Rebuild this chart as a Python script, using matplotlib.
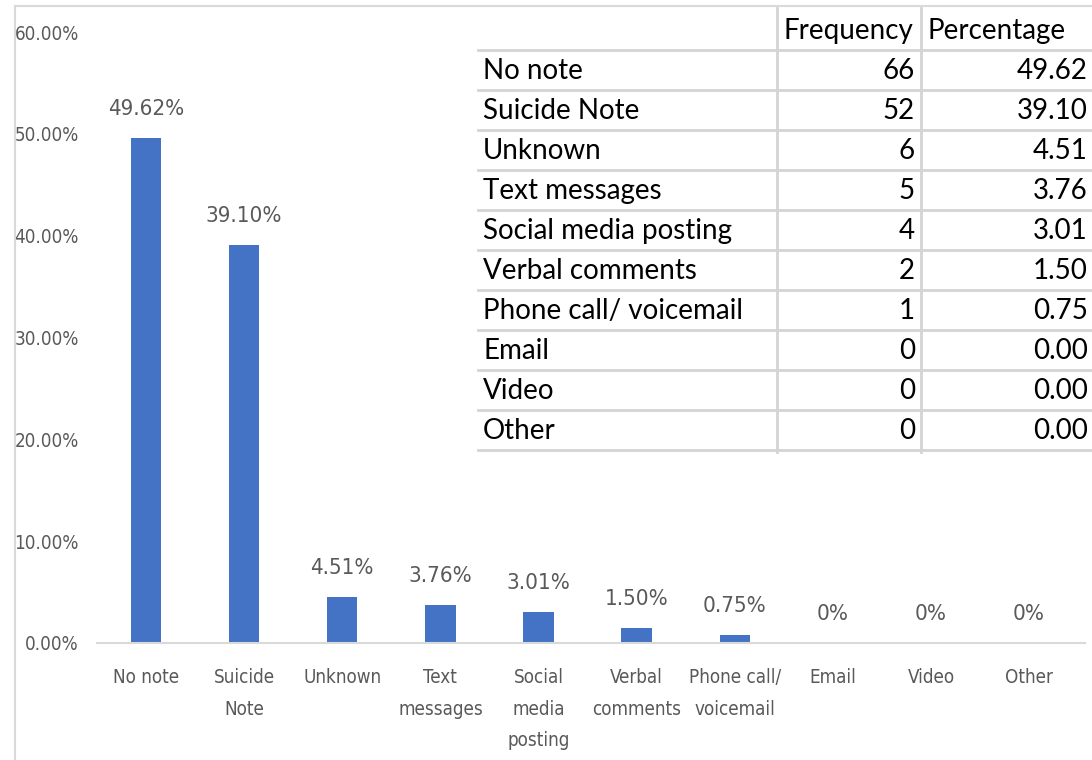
import numpy as np
import matplotlib
matplotlib.use("Agg")
from matplotlib import pyplot as plt
from matplotlib.lines import Line2D

categories = ['No note', 'Suicide Note', 'Unknown', 'Text messages', 'Social media posting',
              'Verbal comments', 'Phone call/ voicemail', 'Email', 'Video', 'Other']
tick_labels = ['No note', 'Suicide\nNote', 'Unknown', 'Text\nmessages', 'Social\nmedia\nposting',
               'Verbal\ncomments', 'Phone call/\nvoicemail', 'Email', 'Video', 'Other']
frequency = [66, 52, 6, 5, 4, 2, 1, 0, 0, 0]
percentage = [49.62, 39.10, 4.51, 3.76, 3.01, 1.50, 0.75, 0.00, 0.00, 0.00]
bar_labels = ['49.62%', '39.10%', '4.51%', '3.76%', '3.01%', '1.50%', '0.75%', '0%', '0%', '0%']
yticks = [0, 10, 20, 30, 40, 50, 60]

W, H = 1092, 760
TABLE_FONT = ['Lato', 'DejaVu Sans']
NARROW = dict(family='DejaVu Sans', fontstretch='condensed')
GREY = '#595959'
LINE = '#d9d9d9'


def fx(px):  # pixel x -> figure fraction
    return px / W


def fy(py):  # pixel y (from top) -> figure fraction
    return 1 - py / H


fig = plt.figure(figsize=(W / 100, H / 100), dpi=100)

# chart area border (left + top)
fig.add_artist(Line2D([fx(15), fx(15)], [fy(6), 0], color=LINE, lw=1.5))
fig.add_artist(Line2D([fx(15), 1], [fy(6), fy(6)], color=LINE, lw=1.5))

ax = fig.add_axes([fx(97), fy(643), fx(1085) - fx(97), fy(32) - fy(643)])
x = np.arange(len(categories))
ax.bar(x, percentage, width=0.31, color='#4472C4')
ax.set_xlim(-0.5, 9.57)
ax.set_ylim(0, 60)

for xi, v, lab in zip(x, percentage, bar_labels):
    ax.annotate(lab, (xi, v), xytext=(0, 19), textcoords='offset pixels',
                ha='center', va='bottom', fontsize=16, color=GREY, **NARROW)

for s in ['top', 'right', 'left']:
    ax.spines[s].set_visible(False)
ax.spines['bottom'].set_color(LINE)
ax.spines['bottom'].set_linewidth(1.5)
ax.tick_params(axis='both', length=0)
ax.set_xticks(x)
ax.set_xticklabels(tick_labels, fontsize=13.5, color=GREY, linespacing=1.85, **NARROW)
ax.tick_params(axis='x', pad=18)
ax.set_yticks(yticks)
ax.set_yticklabels([f'{t:.2f}%' for t in yticks], fontsize=13.5, color=GREY, **NARROW)
ax.tick_params(axis='y', pad=13)

# data table in the upper right
tab_left, tab_right = 478, 1092
col1, col2 = 777, 921
row_h = 40
head_top = 8
for i in range(len(categories) + 1):
    yl = 50 + row_h * i
    fig.add_artist(Line2D([fx(tab_left), fx(tab_right)], [fy(yl), fy(yl)], color='#d4d4d4', lw=2))
for xc in (col1, col2):
    fig.add_artist(Line2D([fx(xc), fx(xc)], [fy(head_top), fy(452)], color='#d4d4d4', lw=2))

fig.text(fx(783), fy(31), 'Frequency', fontsize=20, family=TABLE_FONT, va='center', ha='left')
fig.text(fx(927), fy(31), 'Percentage', fontsize=20, family=TABLE_FONT, va='center', ha='left')
for i, (cat, fr, pc) in enumerate(zip(categories, frequency, percentage)):
    yc = 71 + row_h * i
    fig.text(fx(483), fy(yc), cat, fontsize=20, family=TABLE_FONT, va='center', ha='left')
    fig.text(fx(915), fy(yc), str(fr), fontsize=20, family=TABLE_FONT, va='center', ha='right')
    fig.text(fx(1088), fy(yc), f'{pc:.2f}', fontsize=20, family=TABLE_FONT, va='center', ha='right')

fig.savefig('out.png', dpi=100)
